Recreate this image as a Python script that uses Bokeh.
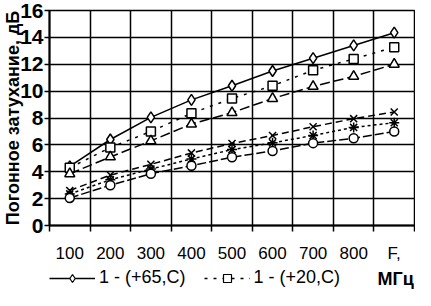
from bokeh.plotting import figure
from bokeh.layouts import column
from bokeh.models import (Range1d, FixedTicker, Legend, LegendItem, Label,
                          LinearAxis)
from bokeh.embed import file_html
from bokeh.resources import INLINE

# ---- data ----
freq = [100, 200, 300, 400, 500, 600, 700, 800, 900]
tick_labels = ["100", "200", "300", "400", "500", "600", "700", "800", "F,"]
y_ticks = [0, 2, 4, 6, 8, 10, 12, 14, 16]
s_diamond = [4.4, 6.4, 8.05, 9.35, 10.4, 11.5, 12.45, 13.4, 14.35]
s_square = [4.3, 5.8, 7.0, 8.35, 9.45, 10.4, 11.55, 12.4, 13.27]
s_triangle = [3.85, 5.1, 6.3, 7.55, 8.4, 9.45, 10.35, 11.1, 12.0]
s_x = [2.6, 3.75, 4.55, 5.4, 6.1, 6.7, 7.35, 7.95, 8.45]
s_asterisk = [2.35, 3.4, 4.2, 4.95, 5.65, 6.15, 6.7, 7.3, 7.65]
s_circle = [2.05, 3.0, 3.85, 4.45, 5.08, 5.55, 6.13, 6.49, 7.0]
legend_labels = ["1 - (+65,C)", "1 - (+20,C)"]
x_unit = "МГц"
y_title = "Погонное затухание, дБ"

FONT = "Liberation Sans"

step = freq[1] - freq[0]
bounds = [f - step / 2 for f in freq] + [freq[-1] + step / 2]

p = figure(width=415, height=266, output_backend="svg", toolbar_location=None,
           x_range=Range1d(bounds[0], bounds[-1]), y_range=Range1d(0, 16),
           min_border_left=45, min_border_right=1, min_border_top=10,
           min_border_bottom=41)
p.background_fill_color = "white"
p.border_fill_color = "white"
p.outline_line_color = "black"
p.outline_line_width = 1.5

# x axis A: tick marks and grid at the category boundaries
xt_b = FixedTicker(ticks=bounds, minor_ticks=[])
p.xaxis.ticker = xt_b
p.xaxis.major_label_overrides = {b: "" for b in bounds}
p.xaxis.major_label_text_font_size = "1px"
p.xaxis.major_label_standoff = 0
p.xaxis.major_tick_out = 6
p.xaxis.major_tick_in = 0
p.xaxis.major_tick_line_width = 1.5
p.xaxis.minor_tick_line_color = None
p.xaxis.axis_line_width = 2
p.xaxis.axis_line_color = "black"
p.xgrid.ticker = xt_b
p.xgrid.grid_line_color = "black"
p.xgrid.grid_line_width = 1.5
p.xgrid.grid_line_alpha = 1

# x axis B: labels at the category centres
xt_c = FixedTicker(ticks=freq, minor_ticks=[])
xb = LinearAxis(ticker=xt_c,
                major_label_overrides={f: l for f, l in zip(freq, tick_labels)},
                axis_line_color=None, major_tick_line_color=None,
                minor_tick_line_color=None, major_tick_out=0,
                major_label_standoff=12,
                major_label_text_font=FONT, major_label_text_font_size="17px",
                major_label_text_color="black")
p.add_layout(xb, "below")

# y axis
yt = FixedTicker(ticks=y_ticks, minor_ticks=[])
p.yaxis.ticker = yt
p.yaxis.major_tick_out = 5
p.yaxis.major_tick_in = 0
p.yaxis.major_tick_line_width = 1.5
p.yaxis.minor_tick_line_color = None
p.yaxis.axis_line_width = 2
p.yaxis.axis_line_color = "black"
p.yaxis.major_label_text_font = FONT
p.yaxis.major_label_text_font_style = "bold"
p.yaxis.major_label_text_font_size = "21px"
p.yaxis.major_label_text_color = "black"
p.yaxis.major_label_standoff = 1
p.yaxis.axis_label = y_title
p.yaxis.axis_label_standoff = -6
p.yaxis.axis_label_text_font = FONT
p.yaxis.axis_label_text_font_style = "bold"
p.yaxis.axis_label_text_font_size = "18px"
p.yaxis.axis_label_text_color = "black"
p.ygrid.ticker = yt
p.ygrid.grid_line_color = "black"
p.ygrid.grid_line_width = 1.5
p.ygrid.grid_line_alpha = 1

series = [
    (s_diamond, "diamond", None, 11),
    (s_square, "square", "3 6", 9),
    (s_triangle, "triangle", "10 4", 10),
    (s_x, "x", "7 4", 10),
    (s_asterisk, "asterisk", "3 3", 10),
    (s_circle, "circle", "9 3", 9),
]
for ys, mk, dash, sz in series:
    lkw = dict(line_color="black", line_width=1.5)
    if dash:
        lkw["line_dash"] = dash
    p.line(freq, ys, **lkw)
    p.scatter(freq, ys, marker=mk, size=sz, line_color="black",
              line_width=1.5, fill_color="white")

# ---- legend row (its own strip below the chart) ----
p2 = figure(width=415, height=24, output_backend="svg", toolbar_location=None,
            x_range=Range1d(0, 1), y_range=Range1d(0, 1),
            x_axis_location=None, y_axis_location=None,
            min_border_left=0, min_border_right=0, min_border_top=0,
            min_border_bottom=0)
p2.grid.visible = False
p2.outline_line_color = None
p2.background_fill_color = "white"
p2.border_fill_color = "white"

# legend samples: first point of each series, lying outside this strip's ranges
leg_r = []
for ys, mk, dash, sz in series[:2]:
    lkw = dict(line_color="black", line_width=1.5)
    if dash:
        lkw["line_dash"] = dash
    lr = p2.line(x=freq[:1], y=ys[:1], **lkw)
    sr = p2.scatter(x=freq[:1], y=ys[:1], marker=mk, size=sz - 1,
                    line_color="black", line_width=1.2, fill_color="white")
    leg_r.append([lr, sr])

items = [LegendItem(label=legend_labels[i], renderers=leg_r[i])
         for i in range(2)]
legend = Legend(items=items, location=(0, 2), orientation="horizontal",
                glyph_width=46, glyph_height=20, label_standoff=4, spacing=18,
                padding=0, margin=0, border_line_color=None,
                background_fill_alpha=0, label_text_font=FONT,
                label_text_font_size="18px", label_text_color="black",
                label_height=20)
p2.add_layout(legend)
p2.add_layout(Label(x=328, y=12, x_units="screen", y_units="screen",
                    text=x_unit, text_align="left", text_baseline="middle",
                    text_font=FONT, text_font_style="bold",
                    text_font_size="18px", text_color="black"))

open("out.html", "w").write(file_html(column(p, p2), INLINE))
